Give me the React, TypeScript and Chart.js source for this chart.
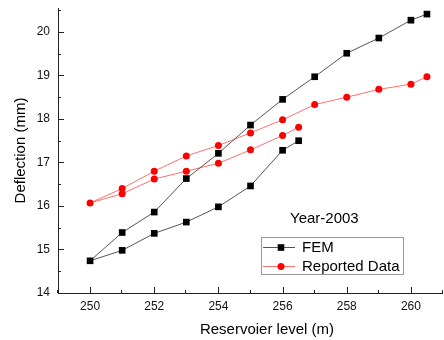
import React, { useEffect, useRef } from 'react';
import { Chart, registerables } from 'chart.js';

Chart.register(...registerables);

// ---- data ----
const levelsDown = [256.5, 256, 255, 254, 253, 252, 251, 250];
const levelsUp = [251, 252, 253, 254, 255, 256, 257, 258, 259, 260, 260.5];
const femDown = [17.5, 17.28, 16.46, 15.98, 15.63, 15.37, 14.98, 14.74];
const femUp = [15.39, 15.86, 16.63, 17.21, 17.86, 18.45, 18.97, 19.51, 19.86, 20.27, 20.41];
const reportedDown = [17.81, 17.62, 17.29, 16.98, 16.8, 16.62, 16.28, 16.07];
const reportedUp = [16.4, 16.8, 17.15, 17.39, 17.68, 17.98, 18.33, 18.5, 18.68, 18.8, 18.97];

const xTicks = [250, 252, 254, 256, 258, 260];
const xMinorTicks = [249, 251, 253, 255, 257, 259, 261];
const yTicks = [14, 15, 16, 17, 18, 19, 20];
const yMinorTicks = [14.5, 15.5, 16.5, 17.5, 18.5, 19.5, 20.5];

const seriesNames = ['FEM', 'Reported Data'];
const annotationText = 'Year-2003';
const xTitle = 'Reservoier level (m)';
const yTitle = 'Deflection (mm)';

const FONT = '"Liberation Sans", Arial, sans-serif';

function toPoints(xs: number[], ys: number[]) {
  return xs.map((x, i) => ({ x, y: ys[i] }));
}

const decorPlugin = {
  id: 'decor',
  afterDraw(chart: any) {
    const ctx = chart.ctx as CanvasRenderingContext2D;
    const { left, right, top, bottom } = chart.chartArea;
    const xs = chart.scales.x;
    const ys = chart.scales.y;
    ctx.save();
    // axes
    ctx.strokeStyle = '#222';
    ctx.lineWidth = 1;
    ctx.beginPath();
    ctx.moveTo(left + 0.5, top);
    ctx.lineTo(left + 0.5, bottom + 0.5);
    ctx.lineTo(right, bottom + 0.5);
    // inward ticks
    yTicks.forEach((v) => {
      const py = Math.round(ys.getPixelForValue(v)) + 0.5;
      ctx.moveTo(left, py);
      ctx.lineTo(left + 6, py);
    });
    yMinorTicks.forEach((v) => {
      const py = Math.round(ys.getPixelForValue(v)) + 0.5;
      ctx.moveTo(left, py);
      ctx.lineTo(left + 3, py);
    });
    xTicks.forEach((v) => {
      const px = Math.round(xs.getPixelForValue(v)) + 0.5;
      ctx.moveTo(px, bottom);
      ctx.lineTo(px, bottom - 6);
    });
    xMinorTicks.forEach((v) => {
      const px = Math.round(xs.getPixelForValue(v)) - 0.5;
      ctx.moveTo(px, bottom);
      ctx.lineTo(px, bottom - 3);
    });
    ctx.stroke();

    // x title
    ctx.fillStyle = '#000';
    ctx.font = `15px ${FONT}`;
    ctx.textAlign = 'center';
    ctx.textBaseline = 'middle';
    ctx.fillText(xTitle, 267, 330);

    // annotation
    ctx.textAlign = 'left';
    ctx.fillText(annotationText, 290, 219);

    // legend
    const bx = 261, by = 237, bw = 142, bh = 37;
    ctx.strokeStyle = '#999';
    ctx.lineWidth = 1;
    ctx.strokeRect(bx + 0.5, by + 0.5, bw, bh);
    const rows = [247, 266];
    chart.data.datasets.forEach((ds: any, i: number) => {
      const cy = rows[i];
      ctx.strokeStyle = ds.borderColor;
      ctx.lineWidth = 1;
      ctx.beginPath();
      ctx.moveTo(263, cy + 0.5);
      ctx.lineTo(295, cy + 0.5);
      ctx.stroke();
      ctx.fillStyle = ds.pointBackgroundColor;
      if (ds.pointStyle === 'rect') {
        ctx.fillRect(281 - 3.3, cy + 0.5 - 3.3, 6.6, 6.6);
      } else {
        ctx.beginPath();
        ctx.arc(281, cy + 0.5, 3.5, 0, Math.PI * 2);
        ctx.fill();
      }
      ctx.fillStyle = '#000';
      ctx.font = `15px ${FONT}`;
      ctx.textAlign = 'left';
      ctx.textBaseline = 'middle';
      ctx.fillText(ds.label, 302, cy + 1);
    });
    ctx.restore();
  },
};

export default function App() {
  const ref = useRef<HTMLCanvasElement>(null);
  useEffect(() => {
    if (!ref.current) return;
    const chart = new Chart(ref.current, {
      type: 'scatter',
      data: {
        datasets: [
          {
            label: seriesNames[0],
            data: toPoints([...levelsDown, ...levelsUp], [...femDown, ...femUp]),
            showLine: true,
            borderColor: '#555',
            borderWidth: 1,
            pointStyle: 'rect',
            pointRadius: 4.7,
            pointBackgroundColor: '#000',
            pointBorderColor: '#000',
            pointBorderWidth: 0,
            tension: 0,
          },
          {
            label: seriesNames[1],
            data: toPoints([...levelsDown, ...levelsUp], [...reportedDown, ...reportedUp]),
            showLine: true,
            borderColor: '#ff7070',
            borderWidth: 1,
            pointStyle: 'circle',
            pointRadius: 3.5,
            pointBackgroundColor: '#ff0000',
            pointBorderColor: '#ff0000',
            pointBorderWidth: 0,
            tension: 0,
          },
        ] as any,
      },
      options: {
        animation: false,
        responsive: false,
        devicePixelRatio: 1,
        layout: { autoPadding: false, padding: { top: 8, right: 1, left: 0, bottom: 0 } },
        plugins: { legend: { display: false }, tooltip: { enabled: false } },
        scales: {
          x: {
            type: 'linear',
            min: 249,
            max: 261,
            afterBuildTicks: (s: any) => {
              s.ticks = xTicks.map((v) => ({ value: v }));
            },
            afterFit: (s: any) => {
              s.height = 47;
              s.paddingLeft = 0;
              s.paddingRight = 0;
            },
            ticks: {
              font: { family: FONT, size: 12 },
              color: '#111',
              padding: 6,
              maxRotation: 0,
              autoSkip: false,
            },
            grid: { display: false, drawTicks: false },
            border: { display: false },
          },
          y: {
            type: 'linear',
            min: 14,
            max: 20.55,
            afterBuildTicks: (s: any) => {
              s.ticks = yTicks.map((v) => ({ value: v }));
            },
            afterFit: (s: any) => {
              s.width = 58;
              s.paddingTop = 0;
              s.paddingBottom = 0;
            },
            ticks: {
              font: { family: FONT, size: 12 },
              color: '#111',
              padding: 8,
              autoSkip: false,
            },
            grid: { display: false, drawTicks: false },
            border: { display: false },
            title: {
              display: true,
              text: yTitle,
              color: '#000',
              font: { family: FONT, size: 15 },
              padding: { top: 12, bottom: 0 },
            },
          },
        },
      } as any,
      plugins: [decorPlugin],
    });
    return () => chart.destroy();
  }, []);
  return (
    <div style={{ position: 'absolute', left: 0, top: 0, width: 444, height: 340, background: '#fff' }}>
      <canvas ref={ref} width={444} height={340} />
    </div>
  );
}
